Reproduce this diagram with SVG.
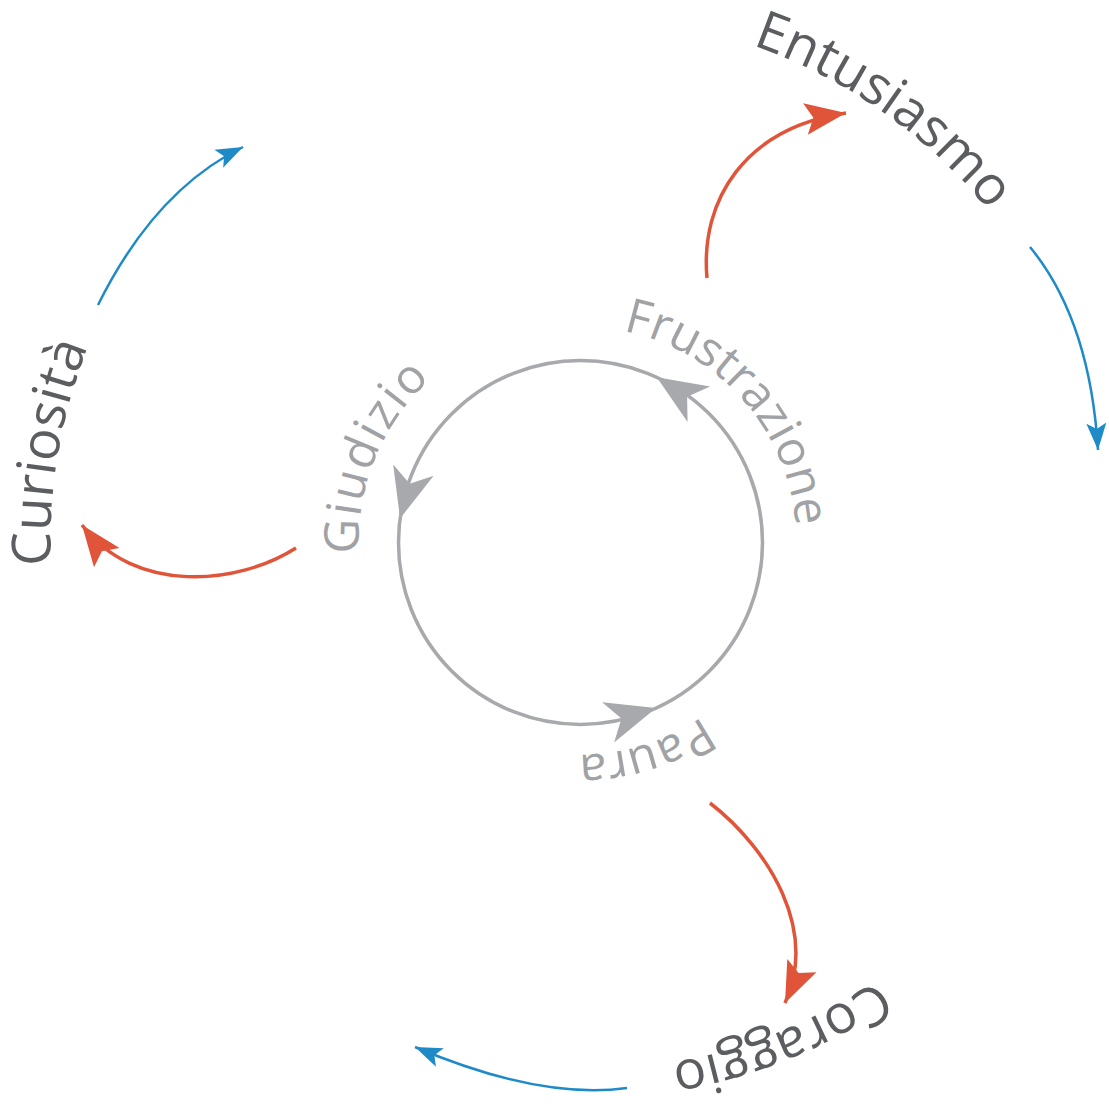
<svg xmlns="http://www.w3.org/2000/svg" width="1109" height="1111" viewBox="0 0 1109 1111">
<style>
.inner{font-family:"Open Sans","Liberation Sans",sans-serif;font-size:48px;fill:#a0a2a5}
.outer{font-family:"Open Sans","Liberation Sans",sans-serif;font-size:54px;fill:#5b5d60}
.red{fill:none;stroke:#e0553a;stroke-width:3.5}
.blue{fill:none;stroke:#1f8ac8;stroke-width:2.5}
.ring{fill:none;stroke:#a7a9ac;stroke-width:3.5}
.ghead{fill:#a7a9ac}
</style>
<defs>
<marker id="redhead" markerUnits="userSpaceOnUse" markerWidth="50" markerHeight="40" viewBox="-45 -20 50 40" refX="0" refY="0" orient="auto"><path d="M0,0 L-41,-16 L-33,0 L-41,16 Z" fill="#e0553a"/></marker>
<marker id="bluehead" markerUnits="userSpaceOnUse" markerWidth="34" markerHeight="26" viewBox="-30 -13 34 26" refX="0" refY="0" orient="auto"><path d="M0,0 L-27,-10 L-21,0 L-27,10 Z" fill="#1f8ac8"/></marker>
<path id="pFrus" d="M437.4,380.7 A216,216 0 0 1 723.6,704.3"/>
<path id="pGiud" d="M495.5,747.6 A222,222 0 0 1 665.5,337.4"/>
<path id="pPaura" d="M786.7,478.3 A216,216 0 0 1 374.3,606.7"/>
<path id="pEntu" d="M149.6,240.8 A526,526 0 0 1 1011.4,844.2"/>
<path id="pCuri" d="M492.1,1065.1 A530,530 0 0 1 668.9,19.9"/>
<path id="pCora" d="M1076.5,342.1 A535,535 0 0 1 84.5,742.9"/>
</defs>
<g id="connectors">
<g id="cycle">
<circle class="ring" cx="580.5" cy="542.5" r="182"/>
<polygon class="ghead" points="0,0 -50,-21 -36,0 -50,21" transform="translate(656.8,377.3) rotate(-147.35)"/>
<polygon class="ghead" points="0,0 -50,-21 -36,0 -50,21" transform="translate(400.1,518.4) rotate(105.45)"/>
<polygon class="ghead" points="0,0 -50,-21 -36,0 -50,21" transform="translate(656.0,708.1) rotate(-16.65)"/>
</g>
<path class="red" d="M707,278 C700,200 745,128 846,113" marker-end="url(#redhead)"/>
<path class="red" d="M296,548 C238,585 135,595 82,525" marker-end="url(#redhead)"/>
<path class="red" d="M710,803 C770,850 818,930 785,1003" marker-end="url(#redhead)"/>
<path class="blue" d="M98,305 Q155,190 243,147" marker-end="url(#bluehead)"/>
<path class="blue" d="M1030,247 Q1090,320 1098,450" marker-end="url(#bluehead)"/>
<path class="blue" d="M627,1088 Q540,1100 415,1047" marker-end="url(#bluehead)"/>
</g>
<g id="frustrazione"><text class="inner"><textPath href="#pFrus" startOffset="50%" text-anchor="middle">Frustrazione</textPath></text></g>
<g id="giudizio"><text class="inner" letter-spacing="2"><textPath href="#pGiud" startOffset="50%" text-anchor="middle">Giudizio</textPath></text></g>
<g id="paura"><text class="inner"><textPath href="#pPaura" startOffset="50%" text-anchor="middle">Paura</textPath></text></g>
<g id="entusiasmo"><text class="outer"><textPath href="#pEntu" startOffset="50%" text-anchor="middle">Entusiasmo</textPath></text></g>
<g id="curiosita"><text class="outer" font-size="56"><textPath href="#pCuri" startOffset="50%" text-anchor="middle">Curiosità</textPath></text></g>
<g id="coraggio"><text class="outer"><textPath href="#pCora" startOffset="50%" text-anchor="middle">Coraggio</textPath></text></g>
</svg>
